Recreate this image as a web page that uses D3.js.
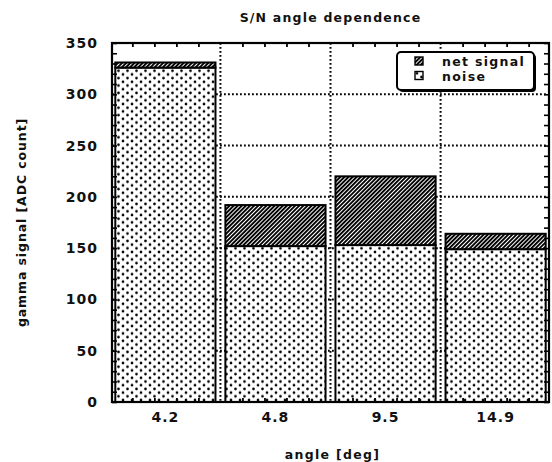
<!DOCTYPE html>
<html>
<head>
<meta charset="utf-8">
<script src="https://cdn.jsdelivr.net/npm/d3@7"></script>
<style>
  body { margin: 0; background: #fff; }
  svg { display: block; }
  text { font-family: "DejaVu Sans", sans-serif; font-weight: bold; fill: #111; }
</style>
</head>
<body>
<div id="chart"></div>
<script>
const angles = ['4.2', '4.8', '9.5', '14.9'];
const noise = [326, 152, 153, 149];
const netSignal = [5, 40, 67, 15];
const yTicks = [0, 50, 100, 150, 200, 250, 300, 350];
const seriesNames = ['net signal', 'noise'];

const canvasWidth = 552;
const canvasHeight = 462;
const margins = { top: 43, right: 3, bottom: 60, left: 112 };
const width = canvasWidth - margins.left - margins.right;
const height = canvasHeight - margins.top - margins.bottom;

const svg = d3.select('#chart')
  .append('svg')
    .attr('width', canvasWidth)
    .attr('height', canvasHeight);

// fill patterns
const defs = svg.append('defs');
const dots = defs.append('pattern')
  .attr('id', 'noise')
  .attr('patternUnits', 'userSpaceOnUse')
  .attr('width', 9)
  .attr('height', 7.4);
dots.append('rect').attr('width', 9).attr('height', 7.4).attr('fill', '#fff');
dots.append('circle').attr('cx', 2).attr('cy', 1.9).attr('r', 1.35).attr('fill', '#000');
dots.append('circle').attr('cx', 6.5).attr('cy', 5.6).attr('r', 1.35).attr('fill', '#000');

const hatch = defs.append('pattern')
  .attr('id', 'signal')
  .attr('patternUnits', 'userSpaceOnUse')
  .attr('width', 2.9)
  .attr('height', 2.9)
  .attr('patternTransform', 'rotate(45)');
hatch.append('rect').attr('width', 2.9).attr('height', 2.9).attr('fill', '#fff');
hatch.append('rect').attr('width', 1.9).attr('height', 2.9).attr('fill', '#000');

const g = svg.append('g')
  .attr('transform', `translate(${margins.left}, ${margins.top})`);

const x = d3.scaleBand()
  .domain(angles)
  .range([0, width])
  .paddingInner(0.09)
  .paddingOuter(0.03);
const y = d3.scaleLinear()
  .domain([0, 350])
  .range([height, 0]);

const gap = x.step() * x.paddingInner() / 2;

// dotted grid
const grid = g.append('g')
  .attr('stroke', '#000')
  .attr('stroke-width', 2)
  .attr('stroke-dasharray', '1.8,2.2');
grid.selectAll('.hgrid')
  .data(yTicks.filter(d => d > 0 && d < 350))
  .enter()
  .append('line')
    .attr('x1', 0)
    .attr('x2', width)
    .attr('y1', d => y(d))
    .attr('y2', d => y(d));
grid.selectAll('.vgrid')
  .data(angles.slice(1))
  .enter()
  .append('line')
    .attr('x1', d => x(d) - gap)
    .attr('x2', d => x(d) - gap)
    .attr('y1', 0)
    .attr('y2', height);

// stacked bars
const rows = angles.map((a, i) => ({ angle: a, noise: noise[i], signal: netSignal[i] }));
const bars = g.append('g').attr('stroke', '#000').attr('stroke-width', 2);
bars.selectAll('.noise')
  .data(rows)
  .enter()
  .append('rect')
    .attr('fill', 'url(#noise)')
    .attr('x', d => x(d.angle))
    .attr('width', x.bandwidth())
    .attr('y', d => y(d.noise))
    .attr('height', d => y(0) - y(d.noise));
bars.selectAll('.signal')
  .data(rows)
  .enter()
  .append('rect')
    .attr('fill', 'url(#signal)')
    .attr('x', d => x(d.angle))
    .attr('width', x.bandwidth())
    .attr('y', d => y(d.noise + d.signal))
    .attr('height', d => y(d.noise) - y(d.noise + d.signal));

// frame
g.append('rect')
  .attr('width', width)
  .attr('height', height)
  .attr('fill', 'none')
  .attr('stroke', '#000')
  .attr('stroke-width', 2.2);

// inward minor ticks
const minorY = d3.range(0, 351, 10);
g.append('g')
  .call(d3.axisLeft(y).tickValues(minorY).tickSize(-5).tickFormat(''))
  .call(s => s.select('.domain').remove())
  .selectAll('line').attr('stroke-width', 1.6);
g.append('g')
  .attr('transform', `translate(${width}, 0)`)
  .call(d3.axisRight(y).tickValues(minorY).tickSize(-5).tickFormat(''))
  .call(s => s.select('.domain').remove())
  .selectAll('line').attr('stroke-width', 1.6);
const xMinor = d3.scaleLinear()
  .domain([0, angles.length * 5])
  .range([x(angles[0]) - gap, x(angles[0]) - gap + x.step() * angles.length]);
const xMinorTicks = d3.range(1, angles.length * 5).filter(d => d % 5 !== 0);
g.append('g')
  .call(d3.axisTop(xMinor).tickValues(xMinorTicks).tickSize(-4).tickFormat(''))
  .call(s => s.select('.domain').remove())
  .selectAll('line').attr('stroke-width', 1.8);
g.append('g')
  .attr('transform', `translate(0, ${height})`)
  .call(d3.axisBottom(xMinor).tickValues(xMinorTicks).tickSize(-4).tickFormat(''))
  .call(s => s.select('.domain').remove())
  .selectAll('line').attr('stroke-width', 1.8);

// labelled axes
const labelStyle = s => s
  .style('font-family', '"DejaVu Sans", sans-serif')
  .style('font-weight', 'bold')
  .style('font-size', '14px')
  .style('letter-spacing', '1px')
  .attr('fill', '#111');
g.append('g')
  .call(d3.axisLeft(y).tickValues(yTicks).tickSize(0).tickPadding(14))
  .call(s => s.select('.domain').remove())
  .selectAll('text')
    .call(labelStyle);
g.append('g')
  .attr('transform', `translate(0, ${height})`)
  .call(d3.axisBottom(x).tickSize(0).tickPadding(10))
  .call(s => s.select('.domain').remove())
  .selectAll('text')
    .call(labelStyle);

// titles
svg.append('text')
  .attr('x', margins.left + width / 2)
  .attr('y', 22)
  .attr('text-anchor', 'middle')
  .style('font-size', '12.5px')
  .style('letter-spacing', '1.2px')
  .text('S/N angle dependence');
svg.append('text')
  .attr('x', margins.left + width / 2 + 2)
  .attr('y', 459)
  .attr('text-anchor', 'middle')
  .style('font-size', '12.5px')
  .style('letter-spacing', '1.3px')
  .text('angle [deg]');
svg.append('text')
  .attr('transform', `translate(26, ${margins.top + height / 2}) rotate(-90)`)
  .attr('text-anchor', 'middle')
  .style('font-size', '12.5px')
  .style('letter-spacing', '0.9px')
  .text('gamma signal [ADC count]');

// legend
const legend = svg.append('g').attr('transform', 'translate(397, 52)');
legend.append('rect')
  .attr('x', 2).attr('y', 2)
  .attr('width', 137).attr('height', 38).attr('rx', 4)
  .attr('fill', '#000');
legend.append('rect')
  .attr('width', 137).attr('height', 38).attr('rx', 4)
  .attr('fill', '#fff')
  .attr('stroke', '#000')
  .attr('stroke-width', 2);
const fills = ['url(#signal)', 'url(#noise)'];
const item = legend.selectAll('.item')
  .data(seriesNames)
  .enter()
  .append('g')
    .attr('transform', (d, i) => `translate(18, ${5 + i * 14.5})`);
item.append('rect')
  .attr('width', 8).attr('height', 8)
  .attr('fill', (d, i) => fills[i])
  .attr('stroke', '#000')
  .attr('stroke-width', 1.4);
item.append('text')
  .attr('x', 27)
  .attr('y', 9)
  .style('font-size', '12.5px')
  .style('letter-spacing', '1.3px')
  .text(d => d);
</script>
</body>
</html>
